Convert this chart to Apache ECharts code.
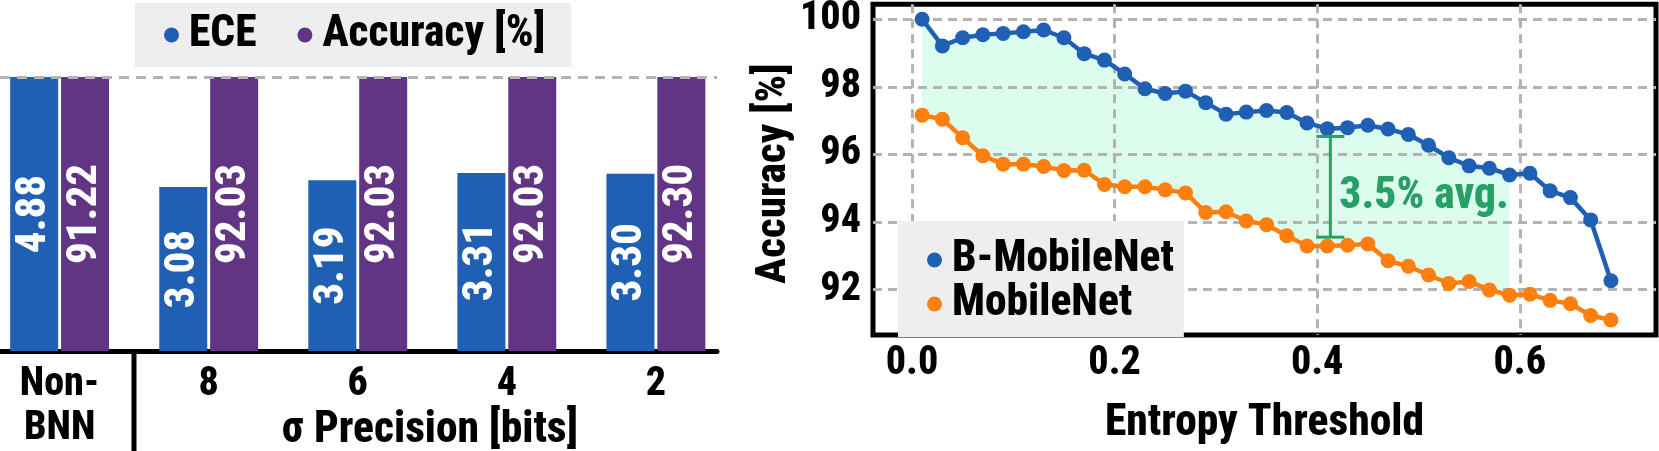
<!DOCTYPE html>
<html>
<head>
<meta charset="utf-8">
<script src="https://cdn.jsdelivr.net/npm/echarts@6/dist/echarts.min.js"></script>
<style>
html,body{margin:0;padding:0;background:#fff;}
#chart{width:1659px;height:451px;}
</style>
</head>
<body>
<div id="chart"></div>
<script>
// ---------- Left panel data ----------
const precisionLabels = ['Non-\nBNN', '8', '6', '4', '2'];
const precisionPos = [0, 1, 2, 3, 4];
const eceValues = [4.88, 3.08, 3.19, 3.31, 3.30];
const accValues = [91.22, 92.03, 92.03, 92.03, 92.30];

// ---------- Right panel data ----------
const thresholds = [0.01, 0.03, 0.05, 0.07, 0.09, 0.11, 0.13, 0.15, 0.17, 0.19,
                    0.21, 0.23, 0.25, 0.27, 0.29, 0.31, 0.33, 0.35, 0.37, 0.39,
                    0.41, 0.43, 0.45, 0.47, 0.49, 0.51, 0.53, 0.55, 0.57, 0.59,
                    0.61, 0.63, 0.65, 0.67, 0.69];
const bMobileNet = [100.00, 99.21, 99.45, 99.54, 99.58, 99.63, 99.68, 99.45, 98.98, 98.79,
                    98.38, 97.94, 97.80, 97.87, 97.53, 97.19, 97.25, 97.30, 97.24, 96.93,
                    96.76, 96.79, 96.86, 96.75, 96.59, 96.27, 95.90, 95.66, 95.59, 95.39,
                    95.44, 94.92, 94.72, 94.06, 92.26];
const mobileNet  = [97.16, 97.04, 96.49, 95.96, 95.71, 95.71, 95.64, 95.52, 95.53, 95.11,
                    95.04, 95.04, 94.95, 94.86, 94.28, 94.30, 94.03, 93.92, 93.59, 93.29,
                    93.29, 93.31, 93.35, 92.85, 92.69, 92.43, 92.18, 92.24, 91.99, 91.83,
                    91.86, 91.68, 91.58, 91.23, 91.10];
const fillCount = 30; // shaded gap spans thresholds 0.01 .. 0.59
const xTicks = [0, 0.2, 0.4, 0.6];
const yTicks = [92, 94, 96, 98, 100];
const gapBar = [0.413, 93.55, 96.53];
const gapText = '3.5% avg.';

const FONT = "'Roboto Condensed', Roboto, sans-serif";
const W = 800;
const BLUE = '#1f5fb4', PURPLE = '#613583', ORANGE = '#ff7f0e', GREEN = '#26a064';
const GRIDC = '#b3b3b3';
const accMax = 91.2;

const chart = echarts.init(document.getElementById('chart'), null, {renderer: 'canvas'});

const txt = (size) => ({fontFamily: FONT, fontWeight: W, fontSize: size, color: '#000'});

const option = {
  animation: false,
  textStyle: {fontFamily: FONT},
  grid: [
    {left: 0, top: 77, width: 717, height: 277},
    {left: 873, top: 3, width: 783, height: 350, show: true, borderColor: '#000', borderWidth: 5}
  ],
  legend: [
    {
      data: ['ECE', 'Accuracy [%]'], left: 135, top: 3, orient: 'horizontal',
      backgroundColor: '#eeeeee', padding: [10, 26, 10, 29], itemGap: 41,
      itemWidth: 25, itemHeight: 15, icon: 'circle', selectedMode: false,
      textStyle: Object.assign(txt(43.5), {lineHeight: 44})
    },
    {
      data: ['B-MobileNet', 'MobileNet'], left: 898, top: 221, orient: 'vertical',
      backgroundColor: '#eeeeee', padding: [17, 10, 11, 29], itemGap: 0,
      itemWidth: 25, itemHeight: 15, icon: 'circle', selectedMode: false,
      textStyle: Object.assign(txt(43.5), {lineHeight: 44})
    }
  ],
  xAxis: [
    {
      type: 'value', gridIndex: 0, min: -0.4, max: 4.41,
      axisLine: {show: true, lineStyle: {color: '#000', width: 5}},
      axisTick: {show: false, customValues: precisionPos},
      splitLine: {show: false},
      axisLabel: {
        customValues: precisionPos, margin: 12, verticalAlign: 'top',
        formatter: (v) => precisionLabels[Math.round(v)],
        fontFamily: FONT, fontWeight: W, fontSize: 40, color: '#000', lineHeight: 44
      }
    },
    {
      type: 'value', gridIndex: 1, min: -0.0385, max: 0.7345,
      axisLine: {show: false}, axisTick: {show: false, customValues: xTicks},
      splitLine: {show: true, lineStyle: {color: GRIDC, width: 3, type: [9, 6]}},
      axisLabel: {customValues: xTicks, formatter: (v) => v.toFixed(1), margin: 9,
        fontFamily: FONT, fontWeight: W, fontSize: 40, color: '#000'},
      name: 'Entropy Threshold', nameLocation: 'middle', nameGap: 67,
      nameTextStyle: txt(43.5)
    }
  ],
  yAxis: [
    {type: 'value', gridIndex: 0, min: 0.4, max: 4.88, show: false},
    {type: 'value', gridIndex: 0, min: 0, max: accMax, show: false},
    {
      type: 'value', gridIndex: 1, min: 90.655, max: 100.445,
      axisLine: {show: false}, axisTick: {show: false, customValues: yTicks},
      splitLine: {show: true, lineStyle: {color: GRIDC, width: 3, type: [9, 6]}},
      axisLabel: {customValues: yTicks, margin: 12,
        fontFamily: FONT, fontWeight: W, fontSize: 40, color: '#000'},
      name: 'Accuracy [%]', nameLocation: 'middle', nameGap: 66,
      nameTextStyle: Object.assign(txt(43), {padding: [0, 8, 0, 0]})
    }
  ],
  series: [
    {
      name: 'ECE', type: 'bar', xAxisIndex: 0, yAxisIndex: 0,
      data: precisionPos.map((p, i) => [p, eceValues[i]]),
      barWidth: 48, barGap: '6%', itemStyle: {color: BLUE},
      label: {show: true, position: 'inside', rotate: 90, color: '#fff',
        fontFamily: FONT, fontWeight: W, fontSize: 43,
        formatter: (p) => p.value[1].toFixed(2)}
    },
    {
      name: 'Accuracy [%]', type: 'bar', xAxisIndex: 0, yAxisIndex: 1,
      data: precisionPos.map((p, i) => [p, accValues[i]]),
      barWidth: 48, barGap: '6%', itemStyle: {color: PURPLE},
      label: {show: true, position: 'inside', rotate: 90, color: '#fff',
        fontFamily: FONT, fontWeight: W, fontSize: 43,
        formatter: (p) => p.value[1].toFixed(2)},
      markLine: {
        silent: true, symbol: ['none', 'none'], label: {show: false},
        lineStyle: {color: GRIDC, width: 3, type: [10, 7]},
        data: [{yAxis: accMax}]
      }
    },
    {
      type: 'custom', name: 'gap', xAxisIndex: 1, yAxisIndex: 2, z: -1, silent: true,
      data: [[0]],
      renderItem: (params, api) => {
        const pts = [];
        for (let i = 0; i < fillCount; i++) pts.push(api.coord([thresholds[i], bMobileNet[i]]));
        for (let i = fillCount - 1; i >= 0; i--) pts.push(api.coord([thresholds[i], mobileNet[i]]));
        return {type: 'polygon', shape: {points: pts}, style: {fill: '#dcfcee'}};
      }
    },
    {
      name: 'B-MobileNet', type: 'line', xAxisIndex: 1, yAxisIndex: 2,
      data: thresholds.map((t, i) => [t, bMobileNet[i]]),
      symbol: 'circle', symbolSize: 15, lineStyle: {width: 4.5, color: BLUE},
      itemStyle: {color: BLUE}, z: 4
    },
    {
      name: 'MobileNet', type: 'line', xAxisIndex: 1, yAxisIndex: 2,
      data: thresholds.map((t, i) => [t, mobileNet[i]]),
      symbol: 'circle', symbolSize: 15, lineStyle: {width: 4.5, color: ORANGE},
      itemStyle: {color: ORANGE}, z: 4
    },
    {
      type: 'custom', name: 'gapbar', xAxisIndex: 1, yAxisIndex: 2, z: 5, silent: true,
      data: [gapBar],
      renderItem: (params, api) => {
        const top = api.coord([api.value(0), api.value(2)]);
        const bot = api.coord([api.value(0), api.value(1)]);
        const cap = 14;
        const st = {stroke: GREEN, lineWidth: 3};
        return {type: 'group', children: [
          {type: 'line', shape: {x1: top[0], y1: top[1], x2: bot[0], y2: bot[1]}, style: st},
          {type: 'line', shape: {x1: top[0] - cap, y1: top[1], x2: top[0] + cap, y2: top[1]}, style: st},
          {type: 'line', shape: {x1: bot[0] - cap, y1: bot[1], x2: bot[0] + cap, y2: bot[1]}, style: st},
          {type: 'text', x: top[0] + 9, y: (top[1] + bot[1]) / 2 + 10,
            style: {text: gapText, fill: GREEN, font: W + ' 43.5px ' + FONT, textAlign: 'left', textVerticalAlign: 'middle'}}
        ]};
      }
    }
  ],
  graphic: [
    {type: 'line', shape: {x1: 134, y1: 354, x2: 134, y2: 451}, style: {stroke: '#000', lineWidth: 5}},
    {type: 'text', x: 430, y: 431, style: {text: 'σ Precision [bits]', fill: '#000',
      font: W + ' 43.5px ' + FONT, textAlign: 'center', textVerticalAlign: 'middle'}}
  ]
};
chart.setOption(option);
</script>
</body>
</html>
